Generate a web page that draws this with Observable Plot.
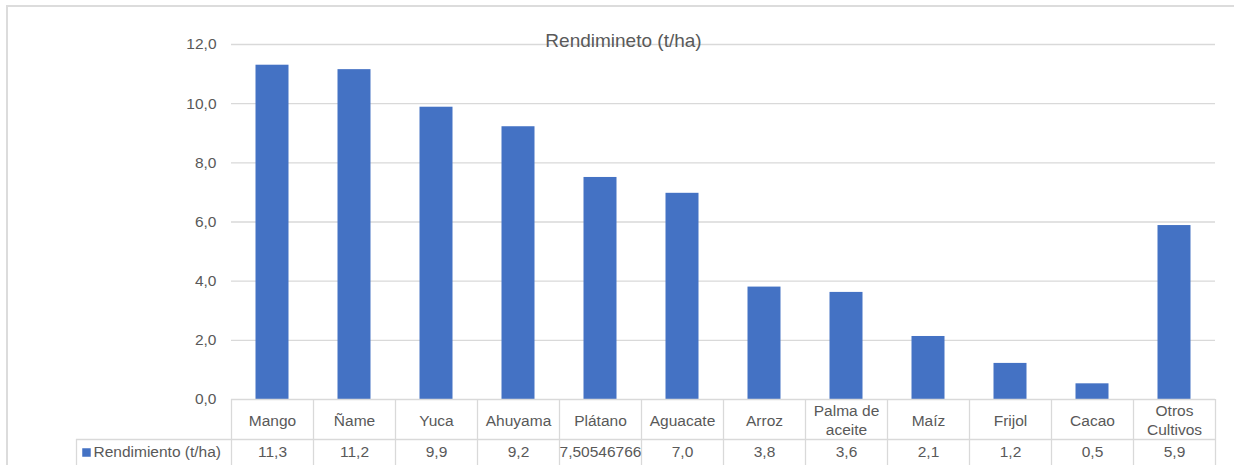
<!DOCTYPE html>
<html>
<head>
<meta charset="utf-8">
<script src="https://cdn.jsdelivr.net/npm/d3@7"></script>
<script src="https://cdn.jsdelivr.net/npm/@observablehq/plot@0.6"></script>
<style>
  html, body { margin: 0; padding: 0; background: #fff; }
  #wrap { position: relative; width: 1234px; height: 465px; overflow: hidden; }
  #border { position: absolute; left: 6px; top: 5px; width: 1260px; height: 500px; border: 2px solid #dcdcdc; box-sizing: border-box; }
  #chart { position: absolute; left: 0; top: 0; }
</style>
</head>
<body>
<div id="wrap"><div id="border"></div><div id="chart"></div></div>
<script>
const title = "Rendimineto (t/ha)";
const seriesName = "Rendimiento (t/ha)";
const categories = ["Mango", "Ñame", "Yuca", "Ahuyama", "Plátano", "Aguacate", "Arroz", "Palma de\naceite", "Maíz", "Frijol", "Cacao", "Otros\nCultivos"];
const values = [11.3, 11.15, 9.88, 9.22, 7.50546766, 6.97, 3.8, 3.62, 2.13, 1.22, 0.53, 5.88];
const tableLabels = ["11,3", "11,2", "9,9", "9,2", "7,50546766", "7,0", "3,8", "3,6", "2,1", "1,2", "0,5", "5,9"];
const yTicks = [0, 2, 4, 6, 8, 10, 12];

const data = categories.map((c, i) => ({category: c, value: values[i], label: tableLabels[i]}));
const font = "'Liberation Sans', Arial, sans-serif";
const textColor = "#595959";
const lineColor = "#d9d9d9";
const barColor = "#4472C4";

const chart = Plot.plot({
  width: 1234,
  height: 465,
  marginLeft: 231,
  marginRight: 19,
  marginTop: 44,
  marginBottom: 66,
  style: {fontFamily: font, fontSize: "15.5px", color: textColor, background: "transparent"},
  x: {type: "band", domain: categories, padding: 0, axis: null},
  y: {domain: [0, 12], ticks: yTicks, tickSize: 0, tickPadding: 15, label: null,
      tickFormat: d => d.toFixed(1).replace(".", ",")},
  marks: [
    Plot.gridY(yTicks.filter(d => d > 0), {stroke: lineColor, strokeOpacity: 1, strokeWidth: 1.3}),
    Plot.barY(data, {x: "category", y: "value", fill: barColor, insetLeft: 24.5, insetRight: 24.5}),
    // data table lines
    Plot.ruleY([0], {stroke: lineColor, strokeWidth: 1.3}),
    Plot.ruleY([0], {stroke: lineColor, strokeWidth: 1.3, dy: 40, insetLeft: -155}),
    Plot.ruleX(data, {x: "category", y1: 0, y2: 0, insetBottom: -70, dx: -41, stroke: lineColor, strokeWidth: 1.3}),
    Plot.ruleX(data.slice(-1), {x: "category", y1: 0, y2: 0, insetBottom: -70, dx: 41, stroke: lineColor, strokeWidth: 1.3}),
    Plot.ruleX(data.slice(0, 1), {x: "category", y1: 0, y2: 0, dy: 40, insetBottom: -70, dx: -41 - 155, stroke: lineColor, strokeWidth: 1.3}),
    // table text
    Plot.text(data, {x: "category", y: 0, dy: 20, text: "category", lineAnchor: "middle", lineHeight: 1.23, fill: textColor, fontSize: 15.5}),
    Plot.text(data, {x: "category", y: 0, dy: 53, text: "label", lineAnchor: "middle", fill: textColor, fontSize: 15.5}),
    // legend key in table
    Plot.dot([seriesName], {frameAnchor: "bottom-left", dx: -145, dy: 53, symbol: "square", r: 4.8, fill: barColor, stroke: null}),
    Plot.text([seriesName], {frameAnchor: "bottom-left", dx: -138, dy: 53, text: d => d, textAnchor: "start", lineAnchor: "middle", fill: textColor, fontSize: 15.5}),
    // title
    Plot.text([title], {frameAnchor: "top-left", dx: 392, dy: -4, text: d => d, textAnchor: "middle", lineAnchor: "middle", fill: textColor, fontSize: 19})
  ]
});
document.getElementById("chart").appendChild(chart);
</script>
</body>
</html>
